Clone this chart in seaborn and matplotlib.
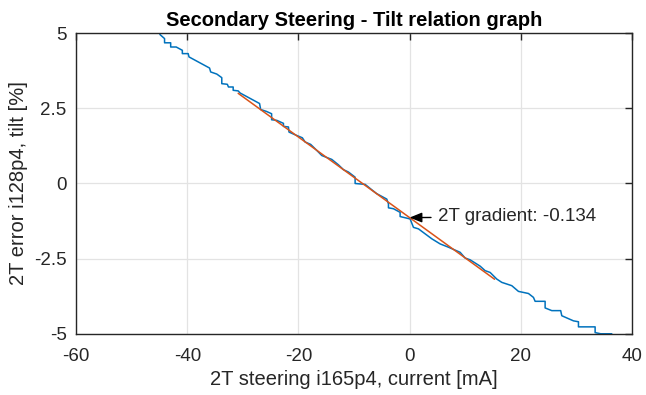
import numpy as np
import pandas as pd
import matplotlib
matplotlib.use("Agg")
import matplotlib.pyplot as plt
import seaborn as sns

# measured staircase: steering current [mA] vs tilt error [%]
current_ma = [-45.0, -44.9, -44.1, -44.1, -43.0, -43.0, -42.0, -40.9, -40.9, -39.85,
              -39.7, -36.0, -35.8, -34.7, -33.8, -33.8, -32.8, -32.6, -31.75, -31.75,
              -30.85, -30.5, -27.0, -26.8, -25.8, -24.83, -24.83, -23.9, -22.7, -22.7,
              -21.8, -21.7, -20.6, -19.3, -18.8, -17.8, -16.7, -15.8, -14.0, -12.8,
              -11.9, -11.0, -9.8, -9.8, -8.0, -6.8, -5.9, -5.3, -4.1, -3.8,
              -3.8, -2.9, -1.7, -1.7, 0.1, 0.7, 1.6, 4.0, 5.5, 7.0,
              9.1, 10.0, 10.9, 12.7, 13.6, 14.5, 15.7, 16.6, 18.4, 19.6,
              21.4, 22.3, 22.6, 24.4, 24.4, 25.6, 27.2, 27.4, 29.5, 30.4,
              30.4, 33.4, 33.4, 34.4, 36.4]
tilt_pct = [5.0, 4.95, 4.82, 4.68, 4.68, 4.54, 4.54, 4.43, 4.32, 4.32,
            4.21, 3.84, 3.71, 3.64, 3.52, 3.32, 3.30, 3.21, 3.21, 3.10,
            3.08, 3.01, 2.66, 2.46, 2.40, 2.32, 2.12, 2.10, 2.00, 1.90,
            1.88, 1.71, 1.62, 1.52, 1.38, 1.30, 1.10, 0.93, 0.80, 0.62,
            0.46, 0.38, 0.21, 0.0, -0.03, -0.21, -0.34, -0.40, -0.52, -0.68,
            -0.81, -0.84, -0.96, -1.10, -1.18, -1.46, -1.51, -1.84, -2.01, -2.12,
            -2.29, -2.48, -2.54, -2.75, -2.90, -2.96, -3.18, -3.29, -3.40, -3.59,
            -3.66, -3.79, -3.92, -3.92, -4.14, -4.23, -4.23, -4.40, -4.57, -4.60,
            -4.77, -4.77, -4.96, -5.0, -5.0]

# linear fit
fit_range = [-30.85, 15.3]
fit_gradient = -0.134
fit_offset = -1.135

x_ticks = [-60, -40, -20, 0, 20, 40]
y_ticks = [-5, -2.5, 0, 2.5, 5]
y_ticklabels = ["-5", "-2.5", "0", "2.5", "5"]

df = pd.DataFrame({"current": current_ma, "tilt": tilt_pct})
fit_x = np.array(fit_range)
fit_df = pd.DataFrame({"current": fit_x, "tilt": fit_offset + fit_gradient * fit_x})

sns.set_style("whitegrid")
plt.rcParams["font.family"] = ["Liberation Sans", "DejaVu Sans"]
plt.rcParams["axes.unicode_minus"] = False

fig = plt.figure(figsize=(6.46, 3.95), dpi=100)
ax = fig.add_axes([0.118, 0.155, 0.86, 0.761])

sns.lineplot(data=df, x="current", y="tilt", sort=False, estimator=None,
             color="#0072BD", linewidth=1.1, ax=ax)
sns.lineplot(data=fit_df, x="current", y="tilt", sort=False, estimator=None,
             color="#D95319", linewidth=1.1, ax=ax)

ax.annotate("2T gradient: -0.134", xy=(0.0, fit_offset), xytext=(5.2, fit_offset + 0.02),
            ha="left", va="center", fontsize=13.5,
            arrowprops=dict(arrowstyle="-|>,head_length=0.55,head_width=0.22",
                            color="black", lw=1.0, shrinkA=3, shrinkB=0))

ax.set_xlim(-60, 40)
ax.set_ylim(-5, 5)
ax.set_xticks(x_ticks)
ax.set_yticks(y_ticks)
ax.set_yticklabels(y_ticklabels)
ax.grid(True, color="#e3e3e3", linewidth=0.9)
for s in ax.spines.values():
    s.set_color("#262626")
    s.set_linewidth(1.0)
    s.set_visible(True)
ax.tick_params(direction="in", length=5, width=1, colors="#262626",
               labelsize=13.5, top=True, right=True)
ax.tick_params(axis="x", pad=10)
ax.tick_params(axis="y", pad=7)

ax.set_title("Secondary Steering - Tilt relation graph", fontsize=14.5,
             fontweight="bold", color="black", pad=5)
ax.set_xlabel("2T steering i165p4, current [mA]", fontsize=14.5, color="#262626", labelpad=4)
ax.set_ylabel("2T error i128p4, tilt [%]", fontsize=14.5, color="#262626", labelpad=4)

fig.savefig("out.png", dpi=100)
